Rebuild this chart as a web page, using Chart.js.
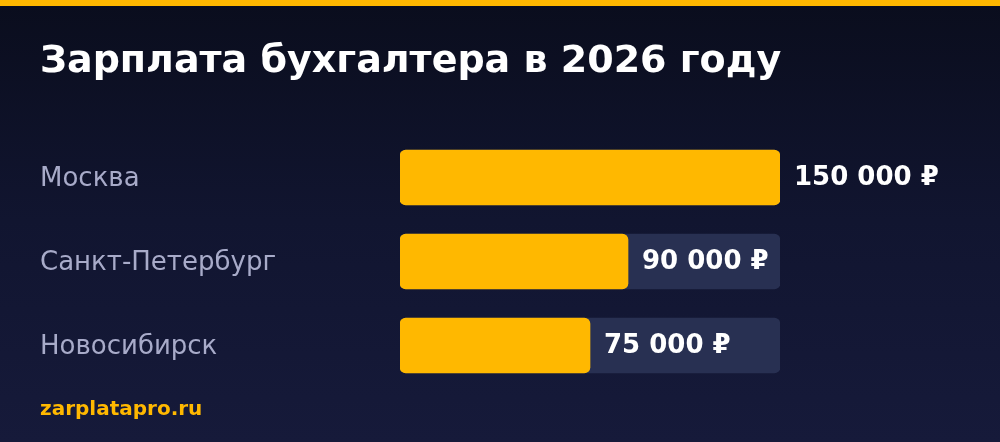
<!DOCTYPE html>
<html>
<head>
<meta charset="utf-8">
<script src="https://cdn.jsdelivr.net/npm/chart.js@4"></script>
<style>
  html, body { margin: 0; padding: 0; }
  body {
    width: 1000px; height: 442px; overflow: hidden; position: relative;
    background: linear-gradient(180deg, #0a0d1d 0%, #111530 50%, #161a3a 100%);
  }
  .topline { position: absolute; left: 0; top: 0; width: 1000px; height: 6px; background: #ffb800; }
  .wrap { position: absolute; left: 0; top: 0; width: 1000px; height: 442px; }
</style>
</head>
<body>
<div class="topline"></div>
<div class="wrap"><canvas id="ch-salary"></canvas></div>
<script>
const cities = ['Москва', 'Санкт-Петербург', 'Новосибирск'];
const salaries = [150000, 90000, 75000];
const trackValues = [150000, 150000, 150000];
const scaleMax = 150000;
const titleText = 'Зарплата бухгалтера в 2026 году';
const sourceText = 'zarplatapro.ru';

const ACCENT = '#ffb800';
const TRACK = '#283052';

function fmtRub(v) {
  return String(v).replace(/\B(?=(\d{3})+(?!\d))/g, ' ') + ' ₽';
}

// value labels drawn just after the end of each bar
const valueLabels = {
  id: 'valueLabels',
  afterDatasetsDraw(chart) {
    const ctx = chart.ctx;
    const meta = chart.getDatasetMeta(0);
    ctx.save();
    ctx.font = 'bold 26px "DejaVu Sans"';
    ctx.fillStyle = '#ffffff';
    ctx.textAlign = 'left';
    ctx.textBaseline = 'middle';
    meta.data.forEach((bar, i) => {
      ctx.fillText(fmtRub(salaries[i]), bar.x + 14, bar.y + 1);
    });
    ctx.restore();
  }
};

Chart.defaults.font.family = '"DejaVu Sans"';

new Chart(document.getElementById('ch-salary'), {
  type: 'bar',
  data: {
    labels: cities,
    datasets: [
      { label: 'Зарплата', data: salaries, backgroundColor: ACCENT, borderRadius: 6, borderSkipped: false, barThickness: 55, grouped: false, order: 1 },
      { label: 'Фон', data: trackValues, backgroundColor: TRACK, borderRadius: 6, borderSkipped: false, barThickness: 55, grouped: false, order: 2 }
    ]
  },
  options: {
    indexAxis: 'y',
    responsive: true, maintainAspectRatio: false,
    animation: false,
    layout: { padding: { left: 40, right: 0, top: 0, bottom: 0 } },
    plugins: {
      legend: { display: false },
      tooltip: { enabled: false },
      title: {
        display: true, text: titleText, align: 'start', color: '#ffffff',
        font: { size: 38, weight: 'bold', lineHeight: 1.2 },
        padding: { top: 39.7, bottom: 50.2 }
      },
      subtitle: {
        display: true, text: sourceText, position: 'bottom', align: 'start', color: ACCENT,
        font: { size: 20, weight: 'bold', lineHeight: 1.2 },
        padding: { top: 10, bottom: 20.5 }
      }
    },
    scales: {
      x: { display: false, min: 0, max: scaleMax },
      y: {
        grid: { display: false }, border: { display: false },
        ticks: { crossAlign: 'far', color: '#a8abc9', font: { size: 26 }, padding: 0, labelOffset: 2 },
        afterFit(s) { s.width = 360; }
      },
      y2: {
        type: 'category', labels: cities, position: 'right',
        grid: { display: false }, border: { display: false },
        ticks: { display: false },
        afterFit(s) { s.width = 220; }
      }
    }
  },
  plugins: [valueLabels]
});
</script>
</body>
</html>
